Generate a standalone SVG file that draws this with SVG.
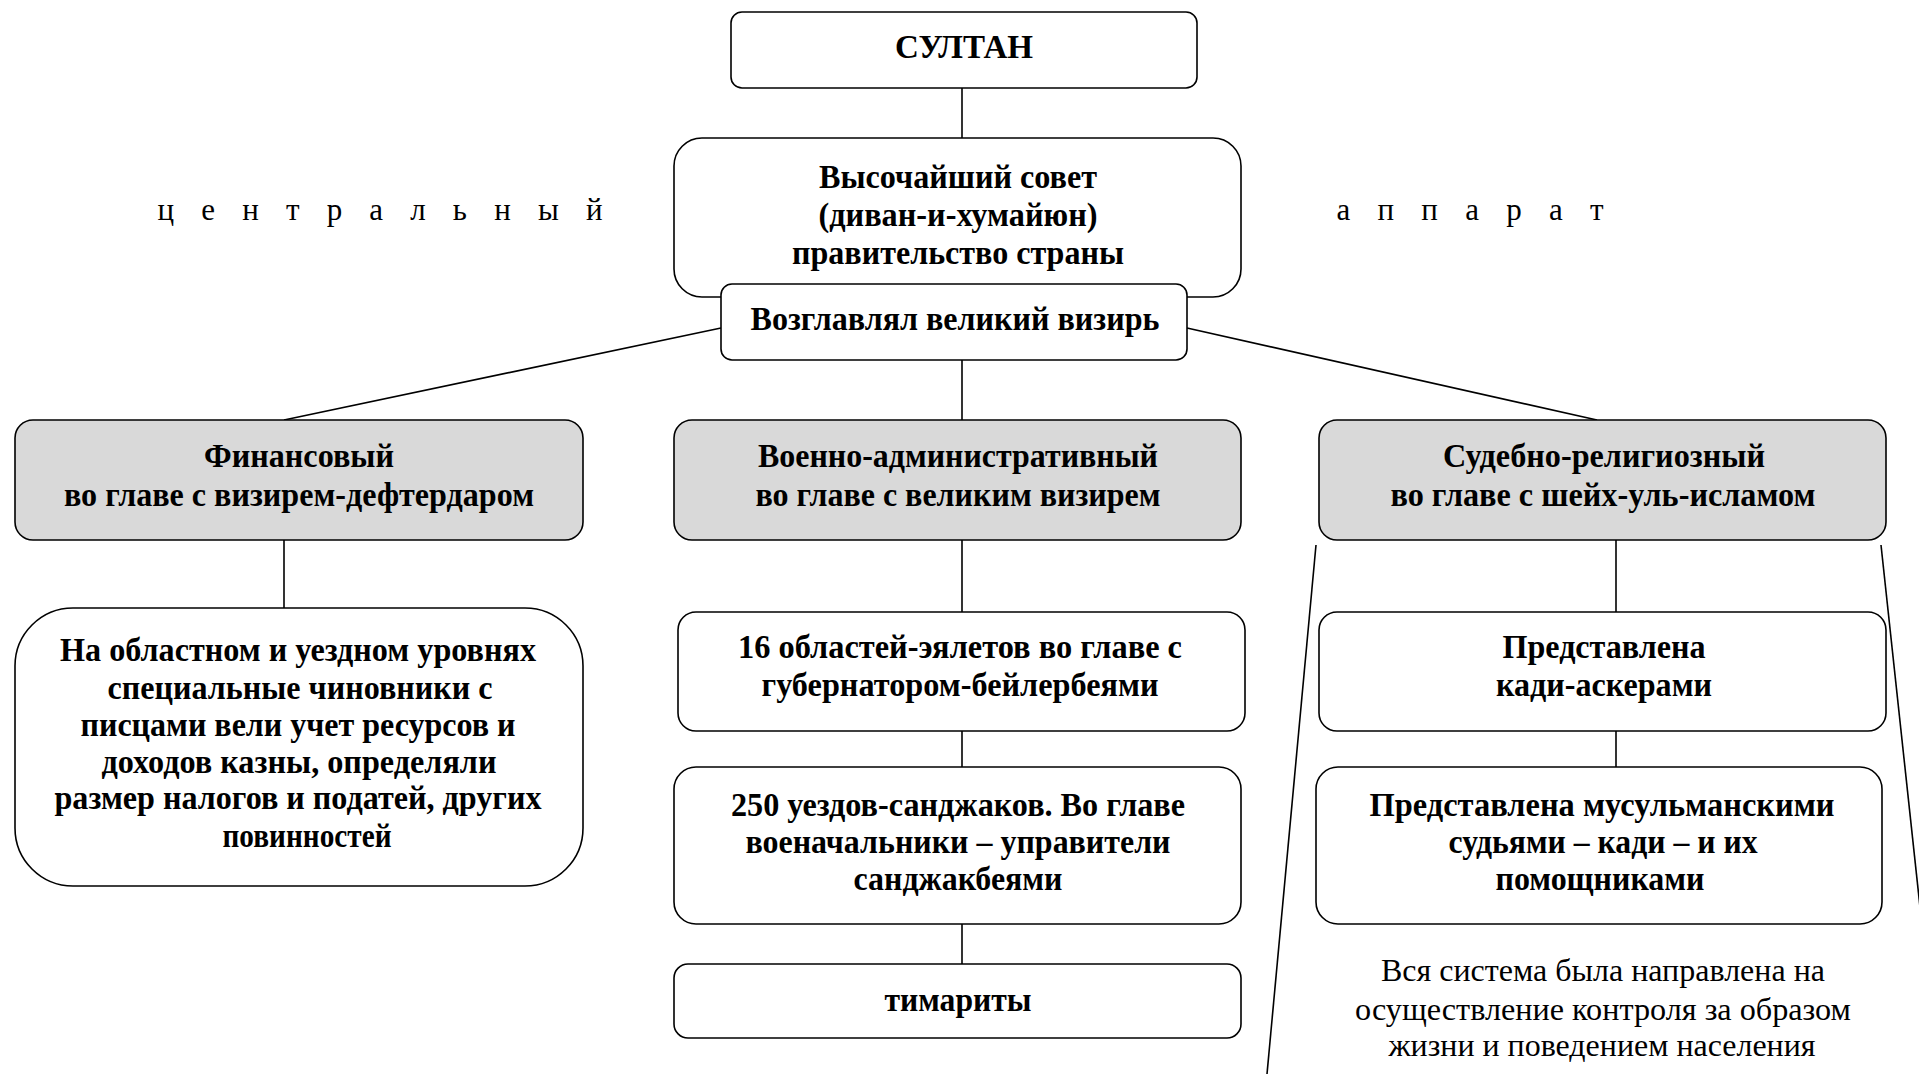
<svg xmlns="http://www.w3.org/2000/svg" width="1919" height="1074" viewBox="0 0 1919 1074">
<style>
.box{fill:#fff;stroke:#000;stroke-width:1.6}
.hdr{fill:#d9d9d9;stroke:#000;stroke-width:1.6}
.b{font-family:"Liberation Serif","Times New Roman",serif;font-weight:bold;font-size:33px;fill:#000;text-anchor:middle}
.n{font-family:"Liberation Serif","Times New Roman",serif;font-size:31px;fill:#000;text-anchor:middle}
.c{stroke:#000;stroke-width:1.6;fill:none}
</style>
<rect width="1919" height="1074" fill="#fff"/>
<g id="connectors">
<line class="c" x1="962" y1="88" x2="962" y2="138"/>
<line class="c" x1="962" y1="360" x2="962" y2="420"/>
<line class="c" x1="721" y1="328" x2="284" y2="420"/>
<line class="c" x1="1187" y1="328" x2="1597" y2="420"/>
<line class="c" x1="284" y1="540" x2="284" y2="608"/>
<line class="c" x1="962" y1="540" x2="962" y2="612"/>
<line class="c" x1="962" y1="731" x2="962" y2="767"/>
<line class="c" x1="962" y1="924" x2="962" y2="964"/>
<line class="c" x1="1616" y1="540" x2="1616" y2="612"/>
<line class="c" x1="1616" y1="731" x2="1616" y2="767"/>
<line class="c" x1="1316" y1="545" x2="1267" y2="1074"/>
<line class="c" x1="1881" y1="545" x2="1938" y2="1074"/>
</g>
<g id="sultan">
<rect class="box" x="731" y="12" width="466" height="76" rx="11"/>
<text class="b" x="964" y="58" textLength="138" lengthAdjust="spacingAndGlyphs">СУЛТАН</text>
</g>
<g id="council">
<rect class="box" x="674" y="138" width="567" height="159" rx="28"/>
<text class="b" x="958" y="188" textLength="278" lengthAdjust="spacingAndGlyphs">Высочайший совет</text>
<text class="b" x="958" y="226" textLength="279" lengthAdjust="spacingAndGlyphs">(диван-и-хумайюн)</text>
<text class="b" x="958" y="264" textLength="332" lengthAdjust="spacingAndGlyphs">правительство страны</text>
</g>
<g id="vizier">
<rect class="box" x="721" y="284" width="466" height="76" rx="11"/>
<text class="b" x="955" y="330" textLength="409" lengthAdjust="spacingAndGlyphs">Возглавлял великий визирь</text>
</g>
<g id="label-central">
<text class="n" x="380" y="220" textLength="445" lengthAdjust="spacing">ц е н т р а л ь н ы й</text>
</g>
<g id="label-apparat">
<text class="n" x="1470" y="220" textLength="267" lengthAdjust="spacing">а п п а р а т</text>
</g>
<g id="finance">
<rect class="hdr" x="15" y="420" width="568" height="120" rx="18"/>
<text class="b" x="299" y="467" textLength="190" lengthAdjust="spacingAndGlyphs">Финансовый</text>
<text class="b" x="299" y="506" textLength="470" lengthAdjust="spacingAndGlyphs">во главе с визирем-дефтердаром</text>
</g>
<g id="military">
<rect class="hdr" x="674" y="420" width="567" height="120" rx="18"/>
<text class="b" x="958" y="467" textLength="400" lengthAdjust="spacingAndGlyphs">Военно-административный</text>
<text class="b" x="958" y="506" textLength="405" lengthAdjust="spacingAndGlyphs">во главе с великим визирем</text>
</g>
<g id="judicial">
<rect class="hdr" x="1319" y="420" width="567" height="120" rx="18"/>
<text class="b" x="1604" y="467" textLength="322" lengthAdjust="spacingAndGlyphs">Судебно-религиозный</text>
<text class="b" x="1603" y="506" textLength="425" lengthAdjust="spacingAndGlyphs">во главе с шейх-уль-исламом</text>
</g>
<g id="finance-detail">
<rect class="box" x="15" y="608" width="568" height="278" rx="58"/>
<text class="b" x="298" y="661" textLength="476" lengthAdjust="spacingAndGlyphs">На областном и уездном уровнях</text>
<text class="b" x="300" y="699" textLength="385" lengthAdjust="spacingAndGlyphs">специальные чиновники с</text>
<text class="b" x="298" y="736" textLength="435" lengthAdjust="spacingAndGlyphs">писцами вели учет ресурсов и</text>
<text class="b" x="299" y="773" textLength="395" lengthAdjust="spacingAndGlyphs">доходов казны, определяли</text>
<text class="b" x="298" y="809" textLength="487" lengthAdjust="spacingAndGlyphs">размер налогов и податей, других</text>
<text class="b" x="307" y="847" textLength="169" lengthAdjust="spacingAndGlyphs">повинностей</text>
</g>
<g id="eyalets">
<rect class="box" x="678" y="612" width="567" height="119" rx="18"/>
<text class="b" x="960" y="658" textLength="444" lengthAdjust="spacingAndGlyphs">16 областей-эялетов во главе с</text>
<text class="b" x="960" y="696" textLength="397" lengthAdjust="spacingAndGlyphs">губернатором-бейлербеями</text>
</g>
<g id="sanjaks">
<rect class="box" x="674" y="767" width="567" height="157" rx="22"/>
<text class="b" x="958" y="816" textLength="454" lengthAdjust="spacingAndGlyphs">250 уездов-санджаков. Во главе</text>
<text class="b" x="958" y="853" textLength="425" lengthAdjust="spacingAndGlyphs">военачальники – управители</text>
<text class="b" x="958" y="890" textLength="209" lengthAdjust="spacingAndGlyphs">санджакбеями</text>
</g>
<g id="timariots">
<rect class="box" x="674" y="964" width="567" height="74" rx="14"/>
<text class="b" x="958" y="1011" textLength="147" lengthAdjust="spacingAndGlyphs">тимариты</text>
</g>
<g id="kadiaskers">
<rect class="box" x="1319" y="612" width="567" height="119" rx="18"/>
<text class="b" x="1604" y="658" textLength="203" lengthAdjust="spacingAndGlyphs">Представлена</text>
<text class="b" x="1604" y="696" textLength="216" lengthAdjust="spacingAndGlyphs">кади-аскерами</text>
</g>
<g id="kadis">
<rect class="box" x="1316" y="767" width="566" height="157" rx="22"/>
<text class="b" x="1602" y="816" textLength="465" lengthAdjust="spacingAndGlyphs">Представлена мусульманскими</text>
<text class="b" x="1603" y="853" textLength="309" lengthAdjust="spacingAndGlyphs">судьями – кади – и их</text>
<text class="b" x="1600" y="890" textLength="209" lengthAdjust="spacingAndGlyphs">помощниками</text>
</g>
<g id="note">
<text class="n" x="1603" y="981" textLength="444" lengthAdjust="spacingAndGlyphs">Вся система была направлена на</text>
<text class="n" x="1603" y="1020" textLength="496" lengthAdjust="spacingAndGlyphs">осуществление контроля за образом</text>
<text class="n" x="1602" y="1056" textLength="427" lengthAdjust="spacingAndGlyphs">жизни и поведением населения</text>
</g>
</svg>
